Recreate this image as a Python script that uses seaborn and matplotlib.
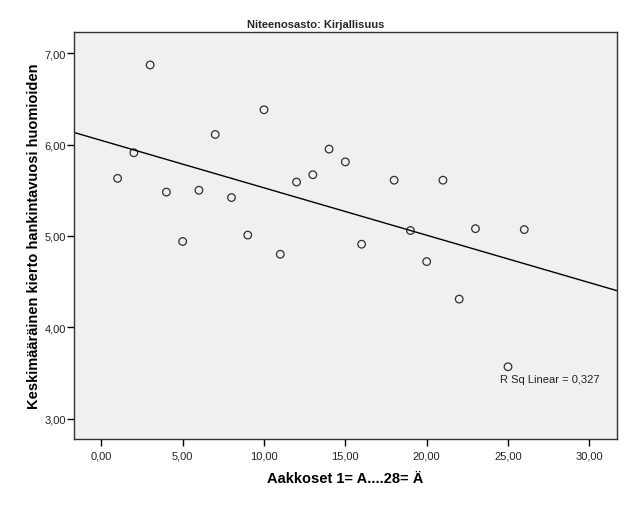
import matplotlib
matplotlib.use("Agg")
import matplotlib.pyplot as plt
import seaborn as sns
import numpy as np
import pandas as pd
from matplotlib.ticker import FuncFormatter, MultipleLocator

x_vals = [1, 2, 3, 4, 5, 6, 7, 8, 9, 10, 11, 12, 13, 14, 15, 16, 18, 19, 20, 21, 22, 23, 25, 26]
y_vals = [5.63, 5.91, 6.87, 5.48, 4.94, 5.50, 6.11, 5.42, 5.01, 6.38, 4.80, 5.59,
          5.67, 5.95, 5.81, 4.91, 5.61, 5.06, 4.72, 5.61, 4.31, 5.08, 3.57, 5.07]
title = "Niteenosasto: Kirjallisuus"
xlabel = "Aakkoset 1= A....28= Ä"
ylabel = "Keskimääräinen kierto hankintavuosi huomioiden"
r2_label = "R Sq Linear = 0,327"

df = pd.DataFrame({"x": x_vals, "y": y_vals})

sns.set_style("white")
plt.rcParams['font.family'] = ['Liberation Sans', 'DejaVu Sans']

fig = plt.figure(figsize=(6.31, 5.06), dpi=100)
ax = fig.add_axes([0.1173, 0.1304, 0.8605, 0.8043])
ax.set_facecolor("#f0f0f0")
ax.set_xlim(-1.68, 31.7)
ax.set_ylim(2.78, 7.23)

sns.regplot(data=df, x="x", y="y", ax=ax, ci=None, truncate=False,
            scatter_kws=dict(s=30, facecolors="none", edgecolors="black", linewidths=0.9),
            line_kws=dict(color="black", lw=1.0))
ax.set_xlim(-1.68, 31.7)
ax.set_ylim(2.78, 7.23)

fmt = FuncFormatter(lambda v, p: f"{v:.2f}".replace(".", ","))
ax.xaxis.set_major_locator(MultipleLocator(5))
ax.yaxis.set_major_locator(MultipleLocator(1))
ax.xaxis.set_major_formatter(fmt)
ax.yaxis.set_major_formatter(fmt)
ax.tick_params(axis="both", direction="out", length=5, width=1, color="black",
               labelsize=8, labelcolor="#222222", bottom=True, left=True)
ax.tick_params(axis="y", pad=1)
ax.tick_params(axis="x", pad=3)
for s in ax.spines.values():
    s.set_color("#333333")
    s.set_linewidth(1.0)

fig.text(0.5, 1 - 25 / 506, title, fontsize=8, fontweight="bold", ha="center", va="center")
ax.set_xlabel(xlabel, fontsize=10.5, fontweight="bold", labelpad=7.5, color="black")
ax.set_ylabel(ylabel, fontsize=10.5, fontweight="bold", color="black")
ax.yaxis.set_label_coords(-0.06, 0.5)
ax.text(24.5, 3.44, r2_label, fontsize=8, ha="left", va="center", color="#222222")

fig.savefig("out.png", dpi=100)
